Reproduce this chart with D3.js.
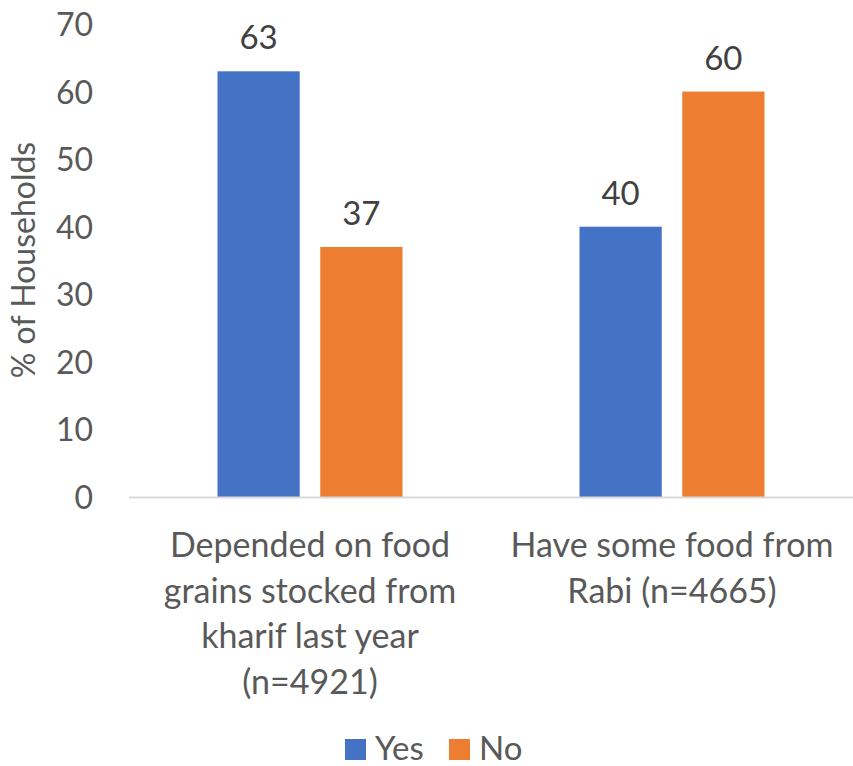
<!DOCTYPE html>
<html><head><meta charset="utf-8">
<script src="https://cdn.jsdelivr.net/npm/d3@7"></script>
<style>body{margin:0;background:#fff}svg{display:block}text{font-family:Lato,"Open Sans",sans-serif}</style>
</head><body><svg id="c" width="853" height="766"></svg>
<script>
const categories = [["Depended on food","grains stocked from","kharif last year","(n=4921)"],["Have some food from","Rabi (n=4665)"]];
const categoryKeys = ["g1","g2"];
const seriesNames = ["Yes","No"];
const yesValues = [63, 40];
const noValues = [37, 60];
const yTicks = [0,10,20,30,40,50,60,70];
const colors = ["#4472C4","#ED7D31"];

const svg = d3.select("#c");
const m = {l:129, r:853, t:24, b:497};
const x0 = d3.scaleBand().domain(categoryKeys).range([m.l, m.r]).paddingInner(0).paddingOuter(0);
const x1 = d3.scaleBand().domain(seriesNames).range([88.5, x0.bandwidth()-88.5]).paddingInner(0.2);
const y = d3.scaleLinear().domain([0,70]).range([m.b, m.t]);

// y axis labels
const yAxis = d3.axisLeft(y).tickValues(yTicks).tickSize(0).tickPadding(0);
const gy = svg.append("g").attr("transform","translate(93,0)").call(yAxis);
gy.select(".domain").remove();
gy.selectAll("text").attr("fill","#595959").style("font-size","32px").attr("dy","0.36em").attr("font-family","Lato");

// y title
svg.append("text").attr("transform","translate(35,260) rotate(-90)").attr("text-anchor","middle")
  .attr("fill","#595959").style("font-size","32px").text("% of Households");

// bars
const data = categoryKeys.map((k,i)=>({k, vals:[{s:"Yes",v:yesValues[i]},{s:"No",v:noValues[i]}]}));
const g = svg.selectAll(".grp").data(data).join("g").attr("transform",d=>`translate(${x0(d.k)},0)`);
g.selectAll("rect").data(d=>d.vals).join("rect")
  .attr("x",d=>x1(d.s)).attr("width",x1.bandwidth())
  .attr("y",d=>y(d.v)).attr("height",d=>y(0)-y(d.v))
  .attr("fill",(d,i)=>colors[i]);
g.selectAll("text.lbl").data(d=>d.vals).join("text").attr("class","lbl")
  .attr("x",d=>x1(d.s)+x1.bandwidth()/2).attr("y",d=>y(d.v)-22)
  .attr("text-anchor","middle").attr("fill","#404040").style("font-size","33px").text(d=>d.v);

// x axis line
svg.append("line").attr("x1",m.l).attr("x2",m.r).attr("y1",y(0)+0.5).attr("y2",y(0)+0.5)
  .attr("stroke","#D9D9D9").attr("stroke-width",2);

// category labels
categoryKeys.forEach((k,i)=>{
  const t = svg.append("text").attr("text-anchor","middle").attr("fill","#595959").style("font-size","34px");
  categories[i].forEach((line,j)=>{
    t.append("tspan").attr("x",x0(k)+x0.bandwidth()/2).attr("y",557+j*45.5).text(line);
  });
});

// legend
const leg = [{s:"Yes",x:345},{s:"No",x:449}];
leg.forEach((d,i)=>{
  svg.append("rect").attr("x",d.x).attr("y",739).attr("width",21).attr("height",21).attr("fill",colors[i]);
  svg.append("text").attr("x",d.x+30).attr("y",760).attr("fill","#595959").style("font-size","33px").text(d.s);
});
</script></body></html>
